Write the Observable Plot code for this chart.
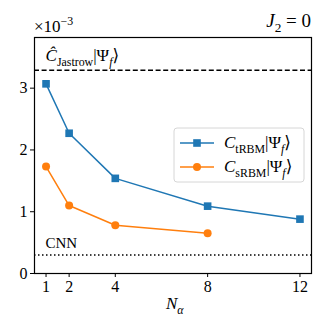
<!DOCTYPE html>
<html><head><meta charset="utf-8">
<script src="https://cdn.jsdelivr.net/npm/d3@7"></script>
<script src="https://cdn.jsdelivr.net/npm/@observablehq/plot@0.6"></script>
<style>
html,body{margin:0;padding:0;background:#fff;} svg{display:block;}
svg text{font-family:"Liberation Serif","DejaVu Serif","Times New Roman",serif !important;}
</style>
</head><body><div id="chart"></div>
<script>
const nAlphaT = [1, 2, 4, 8, 12];
const tRBM = [3.07, 2.27, 1.54, 1.09, 0.88];
const nAlphaS = [1, 2, 4, 8];
const sRBM = [1.73, 1.10, 0.78, 0.65];
const jastrowLevel = [3.29];
const cnnLevel = [0.30];
const xTicks = [1, 2, 4, 8, 12];
const yTicks = [0, 1, 2, 3];
const seriesNames = ["tRBM", "sRBM"];

const blue = "#1f77b4", orange = "#ff7f0e";
const tData = nAlphaT.map((x, i) => ({x, y: tRBM[i]}));
const sData = nAlphaS.map((x, i) => ({x, y: sRBM[i]}));

const svg = Plot.plot({
  width: 332, height: 332,
  marginLeft: 34, marginRight: 21, marginTop: 37, marginBottom: 59,
  style: {fontSize: "16px", color: "black", background: "white"},
  x: {domain: [0.5, 12.5]},
  y: {domain: [0, 3.82]},
  marks: [
    Plot.ruleY(jastrowLevel, {stroke: "black", strokeWidth: 1.5, strokeDasharray: "5,2.6"}),
    Plot.ruleY(cnnLevel, {stroke: "black", strokeWidth: 1.5, strokeDasharray: "1.5,2.5"}),
    Plot.line(tData, {x: "x", y: "y", stroke: blue, strokeWidth: 1.5}),
    Plot.dot(tData, {x: "x", y: "y", symbol: "square", fill: blue, stroke: "none", r: 4.3}),
    Plot.line(sData, {x: "x", y: "y", stroke: orange, strokeWidth: 1.5}),
    Plot.dot(sData, {x: "x", y: "y", symbol: "circle", fill: orange, stroke: "none", r: 4}),
    Plot.frame({stroke: "black", strokeWidth: 1.2}),
    Plot.axisX({ticks: xTicks, tickFormat: "d", tickSize: 4, tickPadding: 3, label: null, fontSize: 16}),
    Plot.axisY({ticks: yTicks, tickFormat: "d", tickSize: 4, tickPadding: 3, label: null, fontSize: 16})
  ]
});
document.getElementById("chart").appendChild(svg);

const sx = svg.scale("x"), sy = svg.scale("y");
const root = d3.select(svg);

function rich(x, y, parts, size, anchor) {
  const t = root.append("text").attr("x", x).attr("y", y)
    .attr("font-size", size)
    .attr("text-anchor", anchor || "start").attr("fill", "black");
  let off = 0;
  parts.forEach(p => {
    const ts = t.append("tspan").text(p.t);
    let target = 0;
    if (p.sub) { target = size * 0.28; ts.attr("font-size", size * 0.7); }
    if (p.sup) { target = -size * 0.4; ts.attr("font-size", size * 0.7); }
    if (target !== off) { ts.attr("dy", target - off); off = target; }
    if (p.i) ts.attr("font-style", "italic");
  });
  return t;
}

// axis offset and title
rich(34, 32, [{t: "×10"}, {t: "−3", sup: true}], 17);
rich(311, 27, [{t: "J", i: true}, {t: "2", sub: true}, {t: " = 0"}], 19, "end");
// x label
rich(sx.apply(6.6), 309, [{t: "N", i: true}, {t: "α", sub: true, i: true}], 17, "middle");
// reference line labels
rich(sx.apply(1), sy.apply(jastrowLevel[0]) - 9,
  [{t: "Ĉ", i: true}, {t: "Jastrow", sub: true}, {t: "|Ψ"}, {t: "f", sub: true, i: true}, {t: "⟩"}], 17);
rich(sx.apply(1), sy.apply(cnnLevel[0]) - 6, [{t: "CNN"}], 15);

// legend
const lg = root.append("g");
lg.append("rect").attr("x", 174).attr("y", 128).attr("width", 130).attr("height", 54)
  .attr("rx", 3).attr("fill", "white").attr("fill-opacity", 0.85).attr("stroke", "#d6d6d6");
const rows = [{c: blue, sym: "square", name: seriesNames[0]}, {c: orange, sym: "circle", name: seriesNames[1]}];
rows.forEach((r, i) => {
  const yy = 143 + i * 24;
  lg.append("line").attr("x1", 180).attr("x2", 214).attr("y1", yy).attr("y2", yy)
    .attr("stroke", r.c).attr("stroke-width", 1.5);
  if (r.sym === "square") lg.append("rect").attr("x", 197 - 3.8).attr("y", yy - 3.8).attr("width", 7.6).attr("height", 7.6).attr("fill", r.c);
  else lg.append("circle").attr("cx", 197).attr("cy", yy).attr("r", 4).attr("fill", r.c);
  rich(224, yy + 5, [{t: "C", i: true}, {t: r.name, sub: true}, {t: "|Ψ"}, {t: "f", sub: true, i: true}, {t: "⟩"}], 17);
});
</script></body></html>
